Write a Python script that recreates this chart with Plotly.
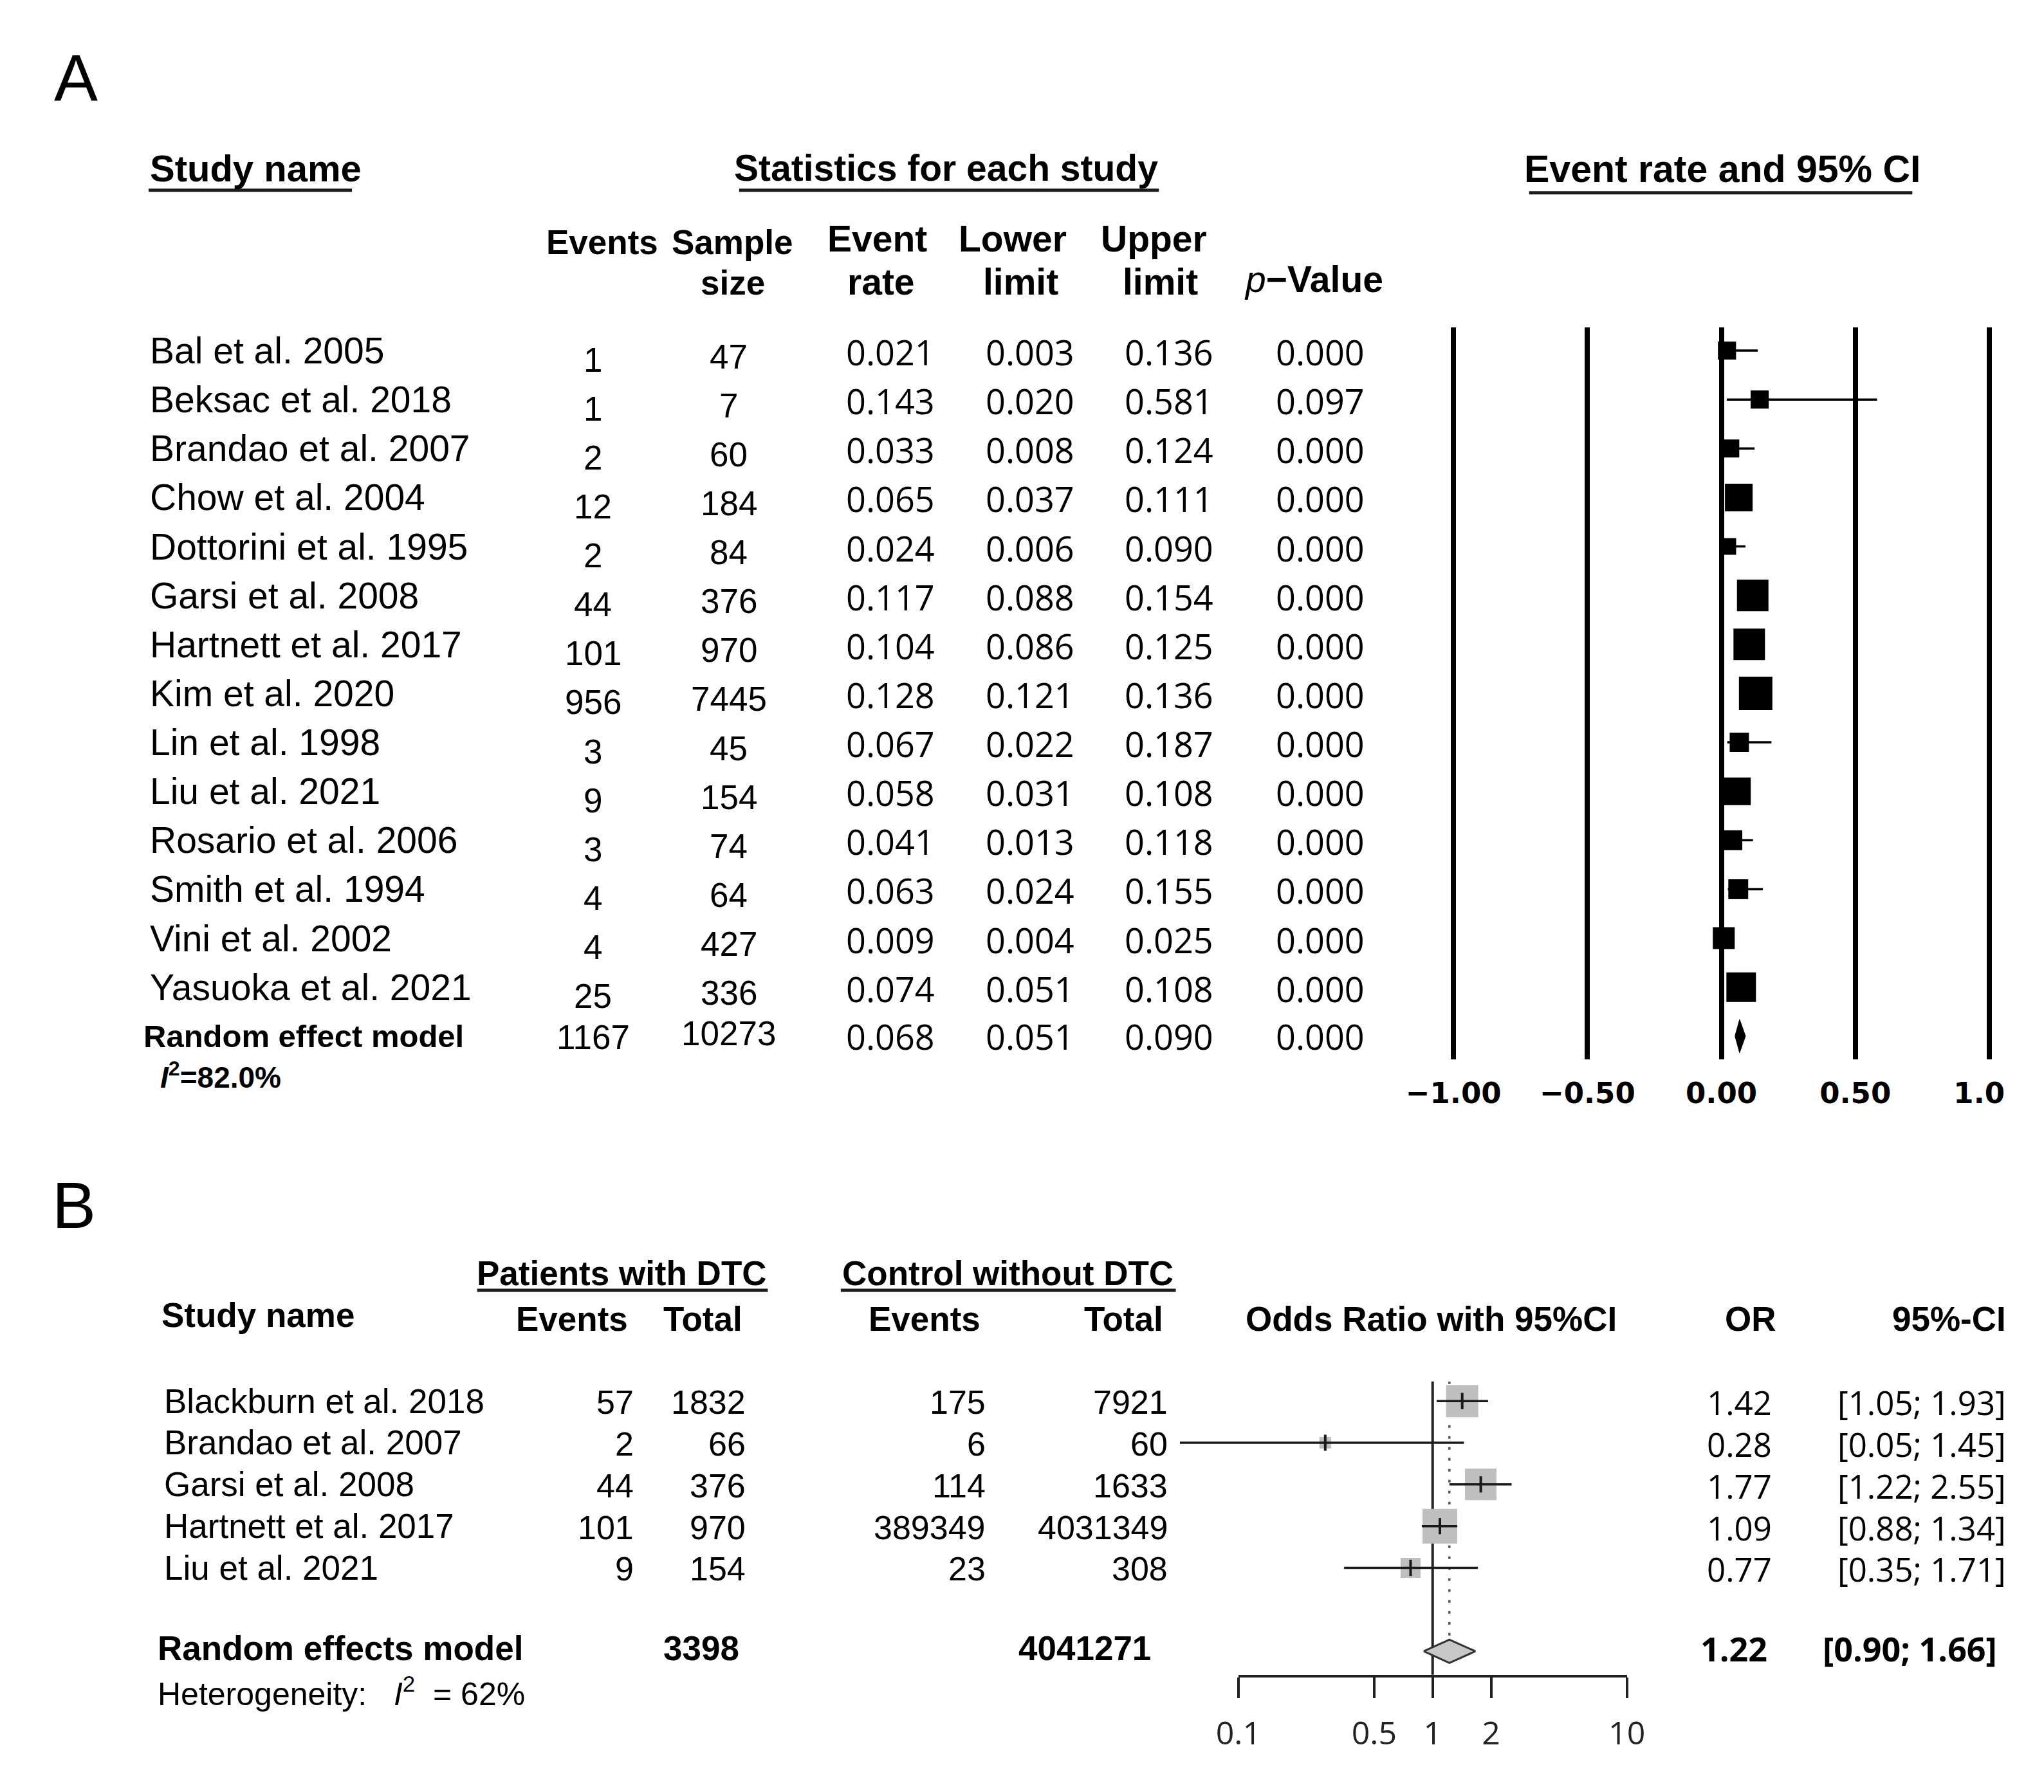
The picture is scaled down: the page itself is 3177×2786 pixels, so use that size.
import math
import plotly.graph_objects as go

W, H = 3177, 2786

# ---------------- Panel A data ----------------
studies_a = ["Bal et al. 2005", "Beksac et al. 2018", "Brandao et al. 2007", "Chow et al. 2004",
             "Dottorini et al. 1995", "Garsi et al. 2008", "Hartnett et al. 2017", "Kim et al. 2020",
             "Lin et al. 1998", "Liu et al. 2021", "Rosario et al. 2006", "Smith et al. 1994",
             "Vini et al. 2002", "Yasuoka et al. 2021"]
events_a = [1, 1, 2, 12, 2, 44, 101, 956, 3, 9, 3, 4, 4, 25]
sample_a = [47, 7, 60, 184, 84, 376, 970, 7445, 45, 154, 74, 64, 427, 336]
rate_a = [0.021, 0.143, 0.033, 0.065, 0.024, 0.117, 0.104, 0.128, 0.067, 0.058, 0.041, 0.063, 0.009, 0.074]
lower_a = [0.003, 0.020, 0.008, 0.037, 0.006, 0.088, 0.086, 0.121, 0.022, 0.031, 0.013, 0.024, 0.004, 0.051]
upper_a = [0.136, 0.581, 0.124, 0.111, 0.090, 0.154, 0.125, 0.136, 0.187, 0.108, 0.118, 0.155, 0.025, 0.108]
pval_a = [0.000, 0.097, 0.000, 0.000, 0.000, 0.000, 0.000, 0.000, 0.000, 0.000, 0.000, 0.000, 0.000, 0.000]
weight_a = [3.9, 3.9, 3.9, 9.1, 3.3, 11.8, 11.8, 13.3, 4.4, 9.1, 4.7, 4.7, 5.7, 10.4]  # relative weights (%)
pooled_label_a = "Random effect model"
pooled_events_a = 1167
pooled_sample_a = 10273
pooled_rate_a = 0.068
pooled_lower_a = 0.051
pooled_upper_a = 0.090
pooled_p_a = 0.000
i2_a = "82.0%"
ticks_a = [-1.0, -0.5, 0.0, 0.5, 1.0]
ticktext_a = ["\u22121.00", "\u22120.50", "0.00", "0.50", "1.0\u00a0\u00a0"]

# ---------------- Panel B data ----------------
studies_b = ["Blackburn et al. 2018", "Brandao et al. 2007", "Garsi et al. 2008",
             "Hartnett et al. 2017", "Liu et al. 2021"]
ev_case_b = [57, 2, 44, 101, 9]
tot_case_b = [1832, 66, 376, 970, 154]
ev_ctrl_b = [175, 6, 114, 389349, 23]
tot_ctrl_b = [7921, 60, 1633, 4031349, 308]
or_b = [1.42, 0.28, 1.77, 1.09, 0.77]
lo_b = [1.05, 0.05, 1.22, 0.88, 0.35]
hi_b = [1.93, 1.45, 2.55, 1.34, 1.71]
weight_b = [27.5, 3.6, 26.4, 32.0, 10.6]  # relative weights (%)
pooled_label_b = "Random effects model"
pooled_case_b = 3398
pooled_ctrl_b = 4041271
pooled_or_b = 1.22
pooled_lo_b = 0.90
pooled_hi_b = 1.66
i2_b = "62%"
ticks_b = [0.1, 0.5, 1, 2, 10]
ticktext_b = ["0.1", "0.5", "1", "2", "10"]

# ---------------- helpers (positions in reference display units 1568 x 1375) ----------------
DW, DH = 1568.0, 1375.0
OFF = 8 / 2.026   # compensate the page body margin
def px(d):
    return (d - OFF) / DW
def py(d):
    return 1 - (d - OFF) / DH

ARIAL = "Liberation Sans"
SEGOE = "Open Sans"
NB = "\u00a0"

annotations = []
def txt(text, x, y, size, family=ARIAL, xanchor="center", yref="paper", yshift=0, color="black"):
    annotations.append(dict(text=text, x=x, y=y, xref="paper", yref=yref, xanchor=xanchor,
                            yanchor="middle", showarrow=False, yshift=yshift,
                            font=dict(family=family, size=size, color=color)))

fig = go.Figure()

# ================= Panel A =================
n_a = len(studies_a)
rows_a = list(range(1, n_a + 1))
pooled_row_a = n_a + 1
row_top_d, row_bot_d = 269.0, 795.0
row_step_d = (row_bot_d - row_top_d) / (pooled_row_a - 1)
grid_top_d, grid_bot_d = 251.0, 813.0
ya_lo = 1 + (grid_top_d - row_top_d) / row_step_d
ya_hi = 1 + (grid_bot_d - row_top_d) / row_step_d

# CI lines
cx, cy = [], []
for lo, hi, r in zip(lower_a, upper_a, rows_a):
    cx += [lo, hi, None]
    cy += [r, r, None]
fig.add_trace(go.Scatter(x=cx, y=cy, mode="lines", line=dict(color="black", width=3.5),
                         xaxis="x", yaxis="y", showlegend=False, hoverinfo="skip"))
# squares
fig.add_trace(go.Scatter(x=rate_a, y=rows_a, mode="markers",
                         marker=dict(symbol="square", color="black", opacity=1,
                                     size=[14.26 * math.sqrt(w) for w in weight_a], line=dict(width=0)),
                         xaxis="x", yaxis="y", showlegend=False, hoverinfo="skip"))
# pooled diamond
dh_a = 0.34
fig.add_trace(go.Scatter(x=[pooled_lower_a, pooled_rate_a, pooled_upper_a, pooled_rate_a, pooled_lower_a],
                         y=[pooled_row_a, pooled_row_a - dh_a, pooled_row_a, pooled_row_a + dh_a, pooled_row_a],
                         mode="lines", fill="toself", fillcolor="black", line=dict(color="black", width=1),
                         xaxis="x", yaxis="y", showlegend=False, hoverinfo="skip"))

# column text panel A
x_name_a = px(114)
x_ev_a, x_ss_a, x_rate_a, x_lo_a, x_hi_a, x_p_a = px(455), px(559), px(683), px(790), px(897), px(1013)
for i, r in enumerate(rows_a):
    txt(studies_a[i], x_name_a, r, 57, ARIAL, "left", "y")
    txt(str(events_a[i]), x_ev_a, r, 53, ARIAL, "center", "y", yshift=-14)
    txt(str(sample_a[i]), x_ss_a, r, 53, ARIAL, "center", "y", yshift=-9)
    txt(f"{rate_a[i]:.3f}", x_rate_a, r, 54, SEGOE, "center", "y", yshift=-2)
    txt(f"{lower_a[i]:.3f}", x_lo_a, r, 54, SEGOE, "center", "y", yshift=-2)
    txt(f"{upper_a[i]:.3f}", x_hi_a, r, 54, SEGOE, "center", "y", yshift=-2)
    txt(f"{pval_a[i]:.3f}", x_p_a, r, 54, SEGOE, "center", "y", yshift=-2)
txt(f"<b>{pooled_label_a}</b>", px(109), pooled_row_a, 49, ARIAL, "left", "y")
txt(str(pooled_events_a), x_ev_a, pooled_row_a, 53, ARIAL, "center", "y", yshift=-2)
txt(str(pooled_sample_a), x_ss_a, pooled_row_a, 53, ARIAL, "center", "y", yshift=4)
txt(f"{pooled_rate_a:.3f}", x_rate_a, pooled_row_a, 54, SEGOE, "center", "y")
txt(f"{pooled_lower_a:.3f}", x_lo_a, pooled_row_a, 54, SEGOE, "center", "y")
txt(f"{pooled_upper_a:.3f}", x_hi_a, pooled_row_a, 54, SEGOE, "center", "y")
txt(f"{pooled_p_a:.3f}", x_p_a, pooled_row_a, 54, SEGOE, "center", "y")
txt(f"<b><i>I</i><sup>2</sup>={i2_a}</b>", px(122), py(825), 46, ARIAL, "left")

# headers panel A
txt("A", px(58), py(60), 102, ARIAL)
txt("<b>Study name</b>", px(114), py(129), 58, ARIAL, "left")
txt("<b>Statistics for each study</b>", px(726), py(129), 57, ARIAL)
txt("<b>Event rate and 95% CI</b>", px(1321), py(130), 59, ARIAL)
txt("<b>Events</b>", px(462), py(186), 53, ARIAL)
txt("<b>Sample</b>", px(562), py(186), 53, ARIAL)
txt("<b>size</b>", px(562), py(217), 53, ARIAL)
txt("<b>Event</b>", px(673), py(183), 57, ARIAL)
txt("<b>rate</b>", px(676), py(216), 57, ARIAL)
txt("<b>Lower</b>", px(777), py(183), 57, ARIAL)
txt("<b>limit</b>", px(783), py(216), 57, ARIAL)
txt("<b>Upper</b>", px(885), py(183), 57, ARIAL)
txt("<b>limit</b>", px(890), py(216), 57, ARIAL)
txt("<i>p</i><b>\u2212Value</b>", px(1008), py(214), 57, ARIAL)

# ================= Panel B =================
n_b = len(studies_b)
rows_b = list(range(1, n_b + 1))
pooled_row_b = n_b + 2
rowb_top_d, rowb_step_d = 1075.0, 32.0
axb_top_d, axb_bot_d = 1060.0, 1285.0
yb_lo = 1 + (axb_top_d - rowb_top_d) / rowb_step_d
yb_hi = 1 + (axb_bot_d - rowb_top_d) / rowb_step_d
dh_b = 0.28

shapes = []
# reference line at OR = 1 and dotted pooled line
shapes.append(dict(type="line", xref="x2", yref="y2 domain", x0=1, x1=1, y0=0, y1=1,
                   line=dict(color="#222222", width=4), layer="below"))
shapes.append(dict(type="line", xref="x2", yref="y2", x0=pooled_or_b, x1=pooled_or_b,
                   y0=yb_lo, y1=pooled_row_b - dh_b,
                   line=dict(color="#555555", width=3.5, dash="4px,13px"), layer="below"))

fig.add_trace(go.Scatter(x=or_b, y=rows_b, mode="markers",
                         marker=dict(symbol="square", color="#bfbfbf", opacity=1,
                                     size=[9.54 * math.sqrt(w) for w in weight_b], line=dict(width=0)),
                         xaxis="x2", yaxis="y2", showlegend=False, hoverinfo="skip", cliponaxis=False))
bx, by = [], []
for lo, hi, r in zip(lo_b, hi_b, rows_b):
    bx += [lo, hi, None]
    by += [r, r, None]
fig.add_trace(go.Scatter(x=bx, y=by, mode="lines", line=dict(color="#1a1a1a", width=3.5),
                         xaxis="x2", yaxis="y2", showlegend=False, hoverinfo="skip"))
fig.add_trace(go.Scatter(x=or_b, y=rows_b, mode="markers",
                         marker=dict(symbol="line-ns", size=18, opacity=1, line=dict(color="#1a1a1a", width=4)),
                         xaxis="x2", yaxis="y2", showlegend=False, hoverinfo="skip"))
fig.add_trace(go.Scatter(x=[pooled_lo_b, pooled_or_b, pooled_hi_b, pooled_or_b, pooled_lo_b],
                         y=[pooled_row_b, pooled_row_b - dh_b, pooled_row_b, pooled_row_b + dh_b, pooled_row_b],
                         mode="lines", fill="toself", fillcolor="#c8c8c8", line=dict(color="#333333", width=3),
                         xaxis="x2", yaxis="y2", showlegend=False, hoverinfo="skip"))
# carrier trace for the visible log axis (0.1 - 10)
fig.add_trace(go.Scatter(x=ticks_b, y=[None] * len(ticks_b), mode="markers", xaxis="x3", yaxis="y2",
                         showlegend=False, hoverinfo="skip"))

# text panel B
def txtb(text, x, y, size, family=ARIAL, xanchor="center", yshift=0):
    txt(text, x, y, size, family, xanchor, "y2", yshift)

for i, r in enumerate(rows_b):
    txtb(studies_b[i], px(125), r, 53, ARIAL, "left")
    txtb(str(ev_case_b[i]), px(487), r, 52, ARIAL, "right", yshift=-2)
    txtb(str(tot_case_b[i]), px(573), r, 52, ARIAL, "right", yshift=-2)
    txtb(str(ev_ctrl_b[i]), px(757), r, 52, ARIAL, "right", yshift=-2)
    txtb(str(tot_ctrl_b[i]), px(897), r, 52, ARIAL, "right", yshift=-2)
    txtb(f"{or_b[i]:.2f}", px(1360), r, 51, SEGOE, "right", yshift=-2)
    txtb(f"[{lo_b[i]:.2f}; {hi_b[i]:.2f}]", px(1540), r, 51, SEGOE, "right", yshift=-2)

txtb(f"<b>{pooled_label_b}</b>", px(120), pooled_row_b, 53, ARIAL, "left", yshift=5)
txtb(f"<b>{pooled_case_b}</b>", px(568), pooled_row_b, 53, ARIAL, "right", yshift=5)
txtb(f"<b>{pooled_ctrl_b}</b>", px(884), pooled_row_b, 53, ARIAL, "right", yshift=5)
txtb(f"<b>{pooled_or_b:.2f}</b>", px(1357), pooled_row_b, 52, SEGOE, "right", yshift=5)
txtb(f"<b>[{pooled_lo_b:.2f}; {pooled_hi_b:.2f}]</b>", px(1533), pooled_row_b, 52, SEGOE, "right", yshift=5)
txt(f"Heterogeneity:{NB}{NB}{NB}<i>I</i><sup>2</sup>{NB}{NB}= {i2_b}", px(120), py(1298), 50, ARIAL, "left")

txt("B", px(57), py(925), 102, ARIAL)
txt("<b>Patients with DTC</b>", px(477), py(977), 53, ARIAL)
txt("<b>Control without DTC</b>", px(773), py(977), 53, ARIAL)
txt("<b>Study name</b>", px(123), py(1009), 53, ARIAL, "left")
txt("<b>Events</b>", px(439), py(1012), 53, ARIAL)
txt("<b>Total</b>", px(539), py(1012), 53, ARIAL)
txt("<b>Events</b>", px(709), py(1012), 53, ARIAL)
txt("<b>Total</b>", px(862), py(1012), 53, ARIAL)
txt("<b>Odds Ratio with 95%CI</b>", px(1098), py(1012), 53, ARIAL)
txt("<b>OR</b>", px(1343), py(1012), 53, ARIAL)
txt("<b>95%-CI</b>", px(1540), py(1012), 53, ARIAL, "right")

# underlines
def uline(x0d, x1d, yd, width=5):
    shapes.append(dict(type="line", xref="paper", yref="paper", x0=px(x0d), x1=px(x1d),
                       y0=py(yd), y1=py(yd), line=dict(color="#1a1a1a", width=width)))
uline(114, 270, 146)
uline(567, 889, 146)
uline(1173, 1467, 148)
uline(366, 589, 990)
uline(645, 902, 990)

# ---------------- axes ----------------
xa_m1, xa_p1 = px(1115), px(1526)       # paper position of -1 and +1
unit_a = (xa_p1 - xa_m1) / 2.0
pad_a = 0.05
xa_dom = [xa_m1 - pad_a * unit_a, xa_p1 + pad_a * unit_a]

dec_b = (px(1248) - px(950)) / 2.0               # paper per decade
lo_rng_b, hi_rng_b = math.log10(0.04), math.log10(12)
xb_dom = [px(950) + (lo_rng_b + 1) * dec_b, px(950) + (hi_rng_b + 1) * dec_b]

fig.update_layout(
    width=W, height=H,
    margin=dict(l=0, r=0, t=0, b=0, pad=0, autoexpand=False),
    paper_bgcolor="white", plot_bgcolor="rgba(0,0,0,0)",
    showlegend=False,
    annotations=annotations,
    shapes=shapes,
    xaxis=dict(domain=xa_dom, range=[-1 - pad_a, 1 + pad_a], anchor="y", automargin=False,
               tickmode="array", tickvals=ticks_a, ticktext=ticktext_a,
               showgrid=True, gridcolor="black", gridwidth=8, zeroline=False, showline=False,
               ticks="", ticklabelstandoff=22,
               tickfont=dict(family="DejaVu Sans", size=45, color="black", weight="bold"),
               fixedrange=True),
    yaxis=dict(domain=[py(grid_bot_d), py(grid_top_d)], range=[ya_hi, ya_lo], anchor="x",
               visible=False, automargin=False, fixedrange=True),
    xaxis2=dict(domain=xb_dom, type="log", range=[lo_rng_b, hi_rng_b], anchor="y2",
                visible=False, automargin=False, fixedrange=True),
    yaxis2=dict(domain=[py(axb_bot_d), py(axb_top_d)], range=[yb_hi, yb_lo], anchor="x2",
                visible=False, automargin=False, fixedrange=True),
    xaxis3=dict(domain=[px(950), px(1248)], type="log", range=[-1, 1], anchor="y2", automargin=False,
                showline=True, linecolor="#222222", linewidth=4, showgrid=False, zeroline=False,
                ticks="outside", ticklen=32, tickwidth=4, tickcolor="#222222",
                tickmode="array", tickvals=ticks_b, ticktext=ticktext_b, ticklabelstandoff=12,
                tickfont=dict(family=SEGOE, size=50, color="#222222"), fixedrange=True),
)

fig.write_html("out.html")
